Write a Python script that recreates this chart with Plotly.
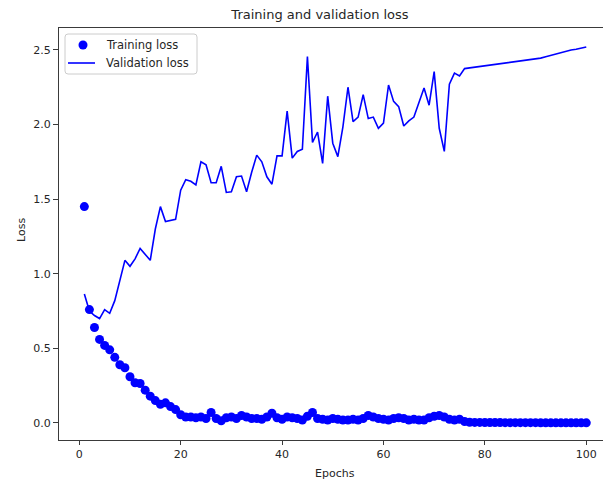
import plotly.graph_objects as go

# Per-epoch losses
epochs = list(range(1, 101))

training_loss = [
    1.45, 0.76, 0.64, 0.56, 0.52, 0.49, 0.44, 0.39, 0.37, 0.31,
    0.27, 0.265, 0.22, 0.18, 0.15, 0.125, 0.135, 0.11, 0.09, 0.055,
    0.04, 0.04, 0.035, 0.04, 0.03, 0.07, 0.03, 0.015, 0.035, 0.04,
    0.03, 0.05, 0.04, 0.03, 0.03, 0.025, 0.04, 0.065, 0.035, 0.025,
    0.04, 0.035, 0.03, 0.02, 0.045, 0.07, 0.03, 0.025, 0.02, 0.03,
    0.025, 0.02, 0.02, 0.025, 0.02, 0.03, 0.05, 0.04, 0.03, 0.025,
    0.02, 0.03, 0.035, 0.03, 0.02, 0.025, 0.02, 0.02, 0.035, 0.045,
    0.05, 0.04, 0.025, 0.02, 0.025, 0.01, 0.005, 0.004, 0.004, 0.003,
    0.003, 0.003, 0.003, 0.002, 0.002, 0.002, 0.002, 0.002, 0.002, 0.002,
    0.001, 0.001, 0.001, 0.001, 0.001, 0.001, 0.001, 0.001, 0.001, 0.001,
]

validation_loss = [
    0.865, 0.75, 0.72, 0.70, 0.76, 0.735, 0.82, 0.95, 1.09, 1.05,
    1.10, 1.17, 1.13, 1.09, 1.30, 1.45, 1.35, 1.355, 1.365, 1.56,
    1.63, 1.62, 1.595, 1.75, 1.73, 1.61, 1.61, 1.72, 1.545, 1.55,
    1.65, 1.655, 1.55, 1.68, 1.795, 1.75, 1.65, 1.60, 1.79, 1.79,
    2.09, 1.775, 1.82, 1.835, 2.455, 1.88, 1.95, 1.74, 2.19, 1.875,
    1.785, 1.985, 2.25, 2.02, 2.05, 2.20, 2.04, 2.05, 1.975, 2.01,
    2.265, 2.155, 2.12, 1.99, 2.025, 2.05, 2.155, 2.245, 2.13, 2.355,
    1.975, 1.82, 2.27, 2.345, 2.325, 2.375, 2.38, 2.385, 2.39, 2.395,
    2.40, 2.405, 2.41, 2.415, 2.42, 2.425, 2.43, 2.435, 2.435, 2.44,
    2.445, 2.455, 2.465, 2.475, 2.485, 2.49, 2.50, 2.505, 2.515, 2.52,
]

x_ticks = [0, 20, 40, 60, 80, 100]
y_ticks = [0.0, 0.5, 1.0, 1.5, 2.0, 2.5]
y_tick_text = ["0.0", "0.5", "1.0", "1.5", "2.0", "2.5"]
series_names = ["Training loss", "Validation loss"]

FONT = "DejaVu Sans"
AXIS_COLOR = "#3a3a3a"
TEXT_COLOR = "#262626"
BLUE = "#0000ff"

W, H = 603, 481
ML, MR, MT, MB = 59, 0, 28, 41
PW, PH = W - ML - MR, H - MT - MB


def px(xpix):
    """Figure pixel column -> paper x."""
    return (xpix - ML) / PW


def py(ypix):
    """Figure pixel row -> paper y."""
    return (H - MB - ypix) / PH


fig = go.Figure()

fig.add_trace(go.Scatter(
    x=epochs, y=training_loss, mode="markers", name=series_names[0],
    marker=dict(color=BLUE, size=9, line=dict(width=0)),
    showlegend=False,
))
fig.add_trace(go.Scatter(
    x=epochs, y=validation_loss, mode="lines", name=series_names[1],
    line=dict(color=BLUE, width=1.6),
    showlegend=False,
))

# Legend box (rounded frame), symbols and labels in the upper-left corner
x0, x1, y0, y1, r = 65, 197, 34, 74, 3
rx, ry = r / PW, r / PH
X0, X1, Y0, Y1 = px(x0), px(x1), py(y1), py(y0)
frame = (
    f"M {X0 + rx},{Y1} L {X1 - rx},{Y1} Q {X1},{Y1} {X1},{Y1 - ry} "
    f"L {X1},{Y0 + ry} Q {X1},{Y0} {X1 - rx},{Y0} "
    f"L {X0 + rx},{Y0} Q {X0},{Y0} {X0},{Y0 + ry} "
    f"L {X0},{Y1 - ry} Q {X0},{Y1} {X0 + rx},{Y1} Z"
)
shapes = [
    dict(type="path", path=frame, xref="paper", yref="paper",
         line=dict(color="#cccccc", width=1), fillcolor="rgba(255,255,255,0.8)",
         layer="above"),
    dict(type="circle", xref="paper", yref="paper",
         x0=px(83 - 4.5), x1=px(83 + 4.5), y0=py(45 + 4.5), y1=py(45 - 4.5),
         line=dict(width=0), fillcolor=BLUE, layer="above"),
    dict(type="line", xref="paper", yref="paper",
         x0=px(68), x1=px(95), y0=py(63), y1=py(63),
         line=dict(color=BLUE, width=1.6), layer="above"),
]

annotations = [
    dict(text=series_names[0], xref="paper", yref="paper",
         x=px(104), y=py(45), xanchor="left", yanchor="middle", showarrow=False,
         font=dict(family=FONT, size=11.5, color=TEXT_COLOR)),
    dict(text=series_names[1], xref="paper", yref="paper",
         x=px(104), y=py(63), xanchor="left", yanchor="middle", showarrow=False,
         font=dict(family=FONT, size=11.5, color=TEXT_COLOR)),
    dict(text="Epochs", xref="paper", yref="paper",
         x=px(335), y=py(473), xanchor="center", yanchor="middle", showarrow=False,
         font=dict(family=FONT, size=11, color=TEXT_COLOR)),
    dict(text="Loss", xref="paper", yref="paper",
         x=px(21), y=py(230), xanchor="center", yanchor="middle", showarrow=False,
         textangle=-90, font=dict(family=FONT, size=11, color=TEXT_COLOR)),
]

fig.update_layout(
    width=W, height=H,
    margin=dict(l=ML, r=MR, t=MT, b=MB),
    paper_bgcolor="white", plot_bgcolor="white",
    font=dict(family=FONT, size=11, color=TEXT_COLOR),
    title=dict(
        text="Training and validation loss",
        x=320 / W, xanchor="center", xref="container",
        y=1 - 14 / H, yanchor="middle", yref="container",
        font=dict(family=FONT, size=13, color=TEXT_COLOR),
    ),
    showlegend=False,
    xaxis=dict(
        range=[-4.0, 103.3], tickvals=x_ticks, ticktext=[str(t) for t in x_ticks],
        showgrid=False, zeroline=False,
        showline=True, linecolor=AXIS_COLOR, linewidth=1, mirror=True,
        ticks="outside", ticklen=4, tickcolor=AXIS_COLOR, tickwidth=1,
        tickfont=dict(family=FONT, size=11, color=TEXT_COLOR),
    ),
    yaxis=dict(
        range=[-0.114, 2.647], tickvals=y_ticks, ticktext=y_tick_text,
        showgrid=False, zeroline=False,
        showline=True, linecolor=AXIS_COLOR, linewidth=1, mirror=False,
        ticks="outside", ticklen=5, tickcolor=AXIS_COLOR, tickwidth=1,
        tickfont=dict(family=FONT, size=11, color=TEXT_COLOR),
    ),
    shapes=shapes,
    annotations=annotations,
)

fig.write_html("out.html")
